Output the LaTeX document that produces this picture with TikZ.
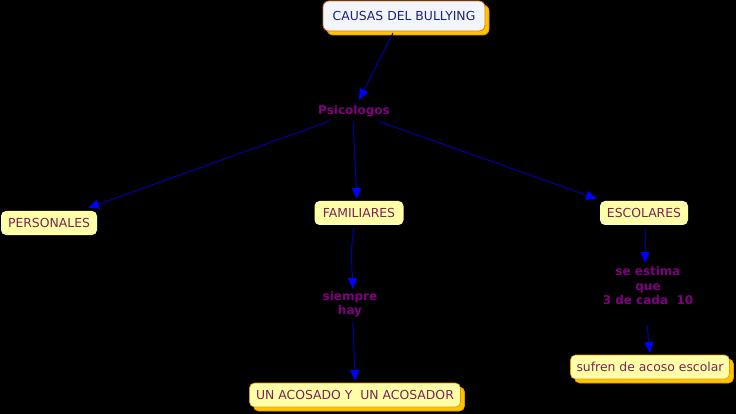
\documentclass[tikz,border=0pt]{standalone}
\usepackage{fontspec}
\setmainfont{DejaVu Sans}
\usetikzlibrary{arrows.meta,shadows}
\definecolor{bgc}{HTML}{000000}
\definecolor{linec}{HTML}{0000A8}
\definecolor{tipc}{HTML}{0000FF}
\definecolor{purp}{HTML}{800080}
\definecolor{boxtext}{HTML}{7A2458}
\definecolor{boxfill}{HTML}{FFFFA8}
\definecolor{topfill}{HTML}{F2F6FA}
\definecolor{topborder}{HTML}{E07820}
\definecolor{navy}{HTML}{1A237E}
\definecolor{shadowc}{HTML}{FFC400}
\definecolor{shadowb}{HTML}{E09A00}
\tikzset{
  x=1pt, y=-1pt,
  conc/.style={rounded corners=5pt, fill=boxfill, text=boxtext, font=\fontsize{12.4}{14}\selectfont,
    inner xsep=6pt, inner ysep=5pt, minimum height=24pt},
  shad/.style={drop shadow={shadow xshift=4pt, shadow yshift=-4pt, opacity=1, fill=shadowc, draw=shadowb}},
  topbox/.style={rounded corners=6pt, fill=topfill, draw=topborder, line width=0.8pt, text=navy,
    font=\fontsize{12.4}{14}\selectfont, inner xsep=8pt, minimum height=30pt, minimum width=162pt},
  lnk/.style={text=purp, font=\bfseries\fontsize{12}{14.5}\selectfont, align=center, inner sep=1pt},
  arr/.style={draw=linec, line width=1pt, -{Triangle[length=11pt,width=9pt,fill=tipc,color=tipc]}},
}
\begin{document}
\begin{tikzpicture}
\fill[bgc] (0,0) rectangle (736,414);
\useasboundingbox (0,0) rectangle (736,414);
\node[topbox, shad] (causas) at (404,16) {CAUSAS DEL BULLYING};
\node[lnk] (psico) at (354,111) {Psicologos};
\node[conc, minimum width=96pt] (pers) at (49,223) {PERSONALES};
\node[conc, minimum width=89pt] (fam) at (359,213) {FAMILIARES};
\node[conc, minimum width=88pt] (esc) at (644,213) {ESCOLARES};
\node[lnk] (siempre) at (350,304) {siempre\\hay};
\node[lnk] (estima) at (648,286) {se estima\\que\\ 3 de cada\ \ 10};
\node[conc, shad, draw=shadowb, line width=0.6pt, minimum width=158pt] (sufren) at (650,367) {sufren de acoso escolar};
\node[conc, shad, draw=shadowb, line width=0.6pt, minimum width=211pt] (acosado) at (355,395) {UN ACOSADO Y\ \ UN ACOSADOR};
\coordinate (c1) at (393,33);
\coordinate (c2) at (330,121);
\coordinate (c3) at (353,121);
\coordinate (c4) at (378,121);
\draw[arr] (c1) -- (359,100);
\draw[arr] (c2) -- (88,208);
\draw[arr] (c3) -- (357,199);
\draw[arr] (c4) -- (597,199);
\draw[arr] (354,228) .. controls (351,250) .. (353,289);
\draw[arr] (353,322) -- (355,381);
\draw[arr] (645,229) -- (645,263);
\draw[arr] (647,325) -- (650,353);
\end{tikzpicture}
\end{document}
